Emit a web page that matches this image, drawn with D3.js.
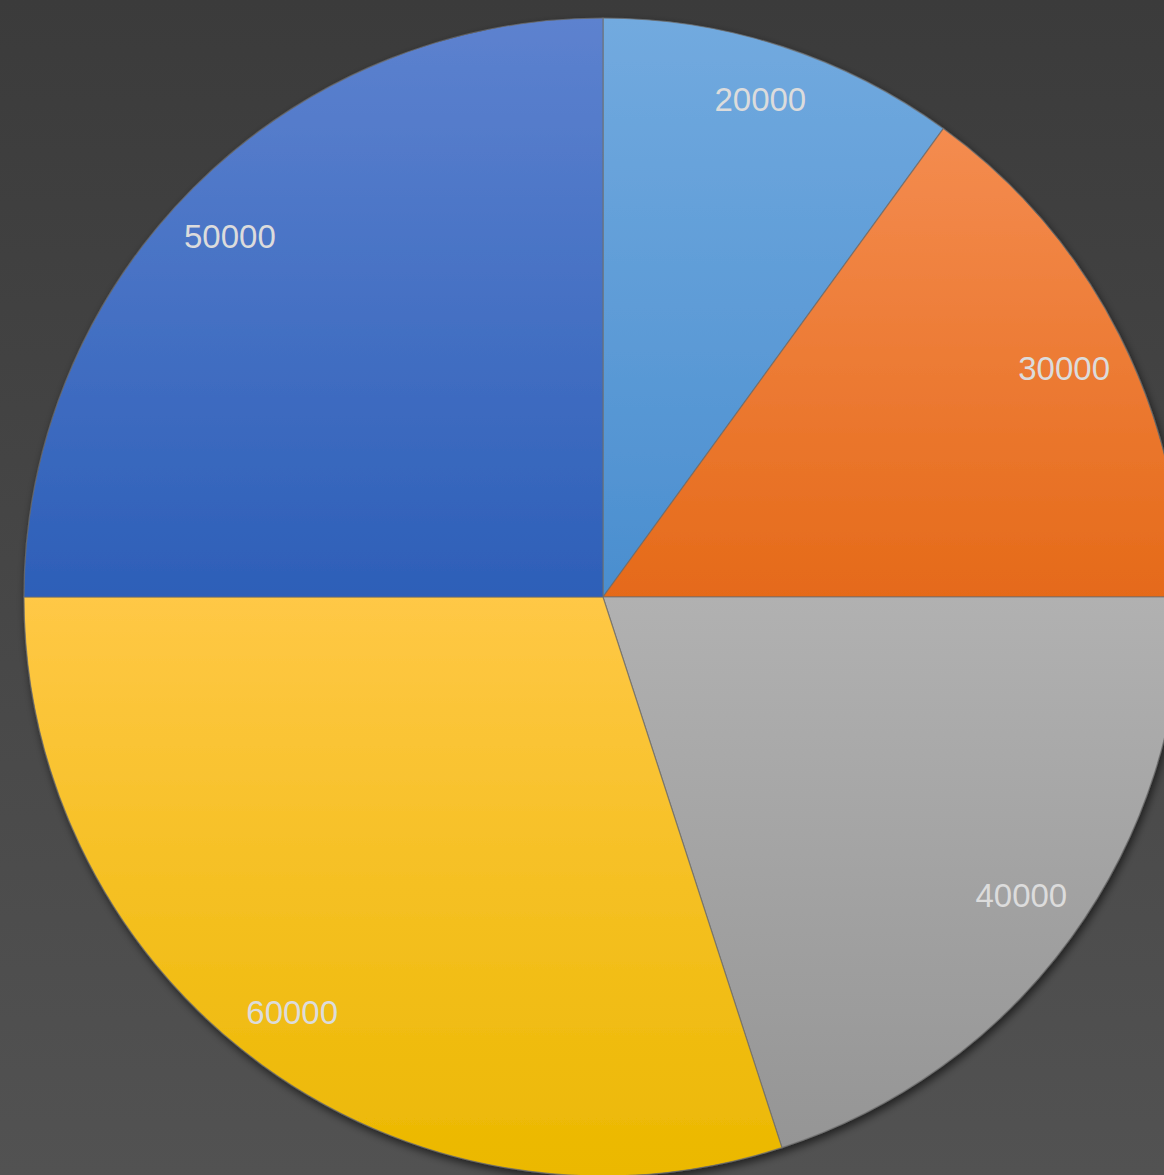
<!DOCTYPE html>
<html>
<head>
<meta charset="utf-8">
<script src="https://cdn.jsdelivr.net/npm/d3@7"></script>
<style>
  html, body { margin: 0; padding: 0; overflow: hidden; }
  svg { display: block; }
</style>
</head>
<body>
<svg id="chart"></svg>
<script>
// data, clockwise from 12 o'clock
const labels = ['A', 'B', 'C', 'D', 'E'];
const values = [20000, 30000, 40000, 60000, 50000];
const topColors = ['#72aadf', '#f48c50', '#b1b1b1', '#ffc846', '#5d82cf'];
const bottomColors = ['#4a8ecf', '#e56a19', '#959595', '#ebb800', '#2d5fb8'];

const width = 1164, height = 1175;
const cx = 603, cy = 597, radius = 579;

const svg = d3.select('#chart')
  .attr('width', width)
  .attr('height', height);

const defs = svg.append('defs');

const bg = defs.append('linearGradient')
  .attr('id', 'bg')
  .attr('x1', 0).attr('y1', 0).attr('x2', 0).attr('y2', 1);
bg.append('stop').attr('offset', '0%').attr('stop-color', '#3b3b3b');
bg.append('stop').attr('offset', '100%').attr('stop-color', '#525252');

const shadow = defs.append('filter')
  .attr('id', 'shadow')
  .attr('x', '-10%').attr('y', '-10%')
  .attr('width', '120%').attr('height', '120%');
shadow.append('feDropShadow')
  .attr('dx', 2).attr('dy', 4)
  .attr('stdDeviation', 4)
  .attr('flood-color', '#000')
  .attr('flood-opacity', 0.6);

values.forEach((v, i) => {
  const g = defs.append('linearGradient')
    .attr('id', 'slice' + i)
    .attr('x1', 0).attr('y1', 0).attr('x2', 0).attr('y2', 1);
  g.append('stop').attr('offset', '0%').attr('stop-color', topColors[i]);
  g.append('stop').attr('offset', '100%').attr('stop-color', bottomColors[i]);
});

svg.append('rect')
  .attr('width', width)
  .attr('height', height)
  .attr('fill', 'url(#bg)');

const pie = d3.pie().sort(null).value(d => d);
const arc = d3.arc().innerRadius(0).outerRadius(radius);

const arcs = pie(values);

// "inside end" labels: push the label box out along the mid angle until
// its outer corner meets a circle just inside the rim
const labelReach = 554, boxHalfW = 47, boxHalfH = 15, labelRx = 522;
function labelPos(d) {
  const a = (d.startAngle + d.endAngle) / 2;
  const s = Math.sin(a), c = Math.cos(a);
  const p = Math.abs(s) * boxHalfW + Math.abs(c) * boxHalfH;
  const q = boxHalfW * boxHalfW + boxHalfH * boxHalfH - labelReach * labelReach;
  const r = -p + Math.sqrt(p * p - q);
  return [labelRx * s - 4, -r * c];
}

const chart = svg.append('g')
  .attr('transform', `translate(${cx},${cy})`);

chart.append('g')
  .attr('filter', 'url(#shadow)')
  .selectAll('path')
  .data(arcs)
  .enter()
  .append('path')
  .attr('d', arc)
  .attr('fill', (d, i) => `url(#slice${i})`)
  .attr('stroke', '#6e6e6e')
  .attr('stroke-opacity', 0.75)
  .attr('stroke-width', 1.2);

chart.append('g')
  .selectAll('text')
  .data(arcs)
  .enter()
  .append('text')
  .attr('transform', d => `translate(${labelPos(d)})`)
  .attr('text-anchor', 'middle')
  .attr('dy', '0.36em')
  .attr('fill', '#dcdcdc')
  .style('font-family', '"Liberation Sans", Arial, sans-serif')
  .style('font-size', '33px')
  .text(d => d.data);
</script>
</body>
</html>
